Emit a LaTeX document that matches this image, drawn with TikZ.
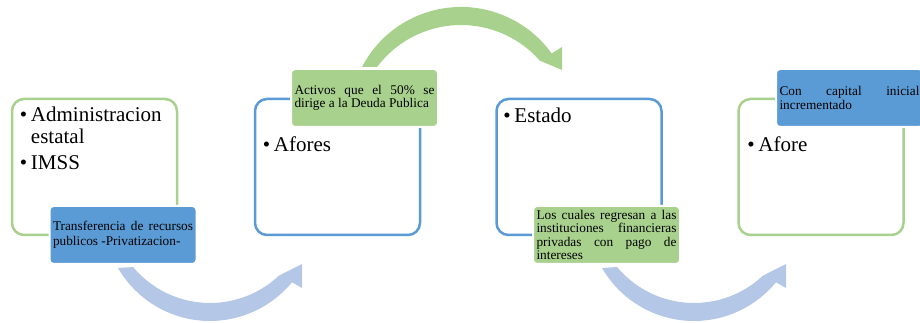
\documentclass[tikz,border=0pt]{standalone}
\usepackage{fontspec}
\setmainfont{Liberation Serif}
\definecolor{lgreen}{HTML}{A9D18E}
\definecolor{mblue}{HTML}{5B9BD5}
\definecolor{lblue}{HTML}{B4C7E7}
\newcommand{\bul}{\makebox[11pt][l]{\textbullet}}
\begin{document}
\begin{tikzpicture}[x=1pt,y=1pt,line join=round,
	bigbox/.style={draw=#1,line width=2.5pt,rounded corners=12pt,fill=white,minimum width=165pt,minimum height=136pt},
	labelbox/.style={fill=#1,draw=white,line width=2pt,rounded corners=4pt,text width=140pt,inner xsep=3.5pt,inner ysep=0pt,minimum height=58pt,align=justify,font=\fontsize{13.3}{13.5}\selectfont},
	bullets/.style={anchor=base west,inner sep=0pt,text width=150pt,align=left,font=\fontsize{21}{22}\selectfont}]
		\useasboundingbox (0,0) rectangle (920,323);
		\def\lowarrow{(118,55) arc[start angle=210.1,end angle=320.5,radius=106.3] -- (302,35) -- (302,59) -- (278.7,47.2) arc[start angle=-46.8,end angle=-140.1,radius=100.3] -- cycle}
		\fill[lblue] \lowarrow;
		\fill[lblue,xshift=484pt] \lowarrow;
		\fill[lgreen] (362,256.1) arc[start angle=152.4,end angle=35.7,radius=111.7] -- (562,276) -- (562,253) -- (539.8,262.4) arc[start angle=41.4,end angle=143.1,radius=105] -- cycle;
		\node[bigbox=lgreen] (adm) at (94.5,156) {};
		\node[bigbox=mblue] (afores) at (337.5,156) {};
		\node[bigbox=mblue] (estado) at (579,156) {};
		\node[bigbox=lgreen] (afore) at (821,156) {};
		\node[bullets] (admtxt) at ([shift={(9,-24)}]adm.north west) {\bul Administracion\\\hspace*{11pt}estatal\\[4pt]\bul IMSS};
		\node[bullets] (aforestxt) at ([shift={(9,-54)}]afores.north west) {\bul Afores};
		\node[bullets] (estadotxt) at ([shift={(8,-25)}]estado.north west) {\bul Estado};
		\node[bullets] (aforetxt) at ([shift={(10,-54)}]afore.north west) {\bul Afore};
		\node[labelbox=mblue,font=\fontsize{13.3}{15}\selectfont] (privat) at (123,88) {Transferencia de recursos\linebreak publicos -Privatizacion-};
		\node[labelbox=lgreen] (deuda) at (364.5,225) {Activos que el 50\% se\linebreak dirige a la Deuda Publica};
		\node[labelbox=lgreen] (regresan) at (606.5,88) {Los cuales regresan a las\linebreak instituciones financieras\linebreak privadas con pago de\linebreak intereses};
		\node[labelbox=mblue] (capital) at (849.5,225) {Con capital inicial\linebreak incrementado};
\end{tikzpicture}
\end{document}
